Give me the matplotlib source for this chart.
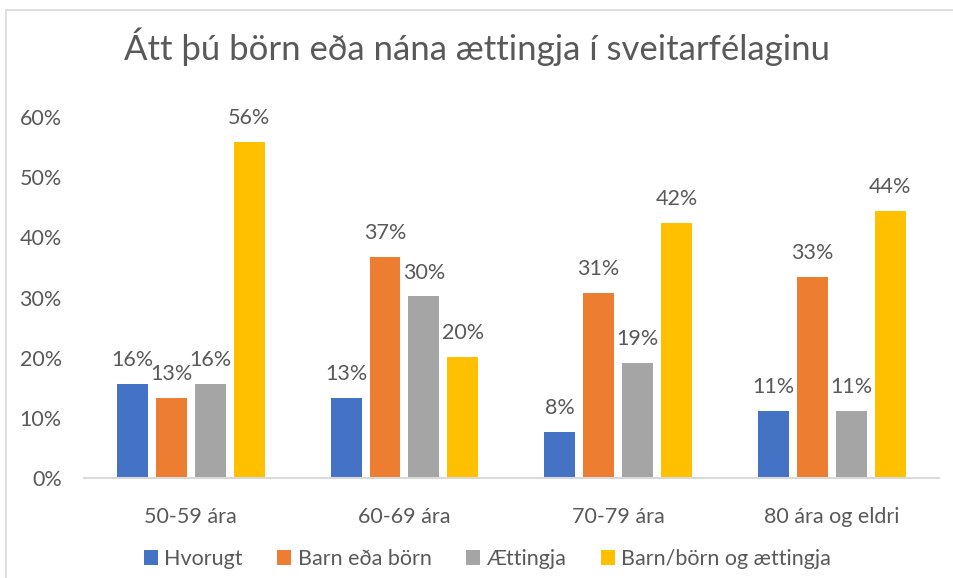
import numpy as np
import matplotlib.pyplot as plt
from matplotlib.patches import Rectangle

plt.rcParams['font.family'] = ['Lato', 'DejaVu Sans']

# data
categories = ['50-59 ára', '60-69 ára', '70-79 ára', '80 ára og eldri']
series_names = ['Hvorugt', 'Barn eða börn', 'Ættingja', 'Barn/börn og ættingja']
hvorugt = [0.157, 0.133, 0.077, 0.112]
barn = [0.133, 0.368, 0.308, 0.334]
aettingja = [0.157, 0.302, 0.192, 0.112]
baedi = [0.558, 0.201, 0.424, 0.444]
colors = ['#4472C4', '#ED7D31', '#A5A5A5', '#FFC000']

text_col = '#595959'

fig = plt.figure(figsize=(9.54, 5.78), dpi=100)
ax = fig.add_axes([0.088, 0.1725, 0.896, 0.625])

# chart border (cropped on right/bottom like the source)
fig.patches.append(Rectangle((6/954, -0.1), 1.0, (568/578) + 0.1,
                             transform=fig.transFigure, fill=False,
                             edgecolor='#D9D9D9', linewidth=1.2))

x = np.arange(len(categories))
width = 0.145
pitch = 0.1824
all_series = [hvorugt, barn, aettingja, baedi]

for i, (vals, name, c) in enumerate(zip(all_series, series_names, colors)):
    offs = (i - 1.5) * pitch
    bars = ax.bar(x + offs, vals, width, color=c, label=name)
    for b, v in zip(bars, vals):
        ax.annotate('{:.0f}%'.format(v * 100),
                    (b.get_x() + b.get_width() / 2, b.get_height()),
                    xytext=(0, 10), textcoords='offset points',
                    ha='center', va='bottom', fontsize=15.5, color=text_col,
                    annotation_clip=False)

ax.set_xlim(-0.5, 3.5)
ax.set_ylim(0, 0.6)
ax.set_yticks(np.arange(0, 0.61, 0.1))
ax.set_yticklabels(['{:.0f}%'.format(t * 100) for t in np.arange(0, 0.61, 0.1)])
ax.set_xticks(x)
ax.set_xticklabels(categories)
ax.tick_params(axis='both', length=0, labelsize=15.5, labelcolor=text_col)
ax.tick_params(axis='x', pad=21)
ax.tick_params(axis='y', pad=16)

for s in ['top', 'right', 'left']:
    ax.spines[s].set_visible(False)
ax.spines['bottom'].set_color('#D9D9D9')
ax.spines['bottom'].set_linewidth(1.5)

fig.text(0.5, 0.919, 'Átt þú börn eða nána ættingja í sveitarfélaginu',
         ha='center', va='center', fontsize=25, color=text_col)

fig.legend(loc='center', bbox_to_anchor=(0.511, 0.033), ncol=4, frameon=False,
           fontsize=15.5, labelcolor=text_col, handlelength=0.65, handleheight=0.65,
           handletextpad=0.3, columnspacing=1.6)

fig.savefig('out.png', dpi=100)
